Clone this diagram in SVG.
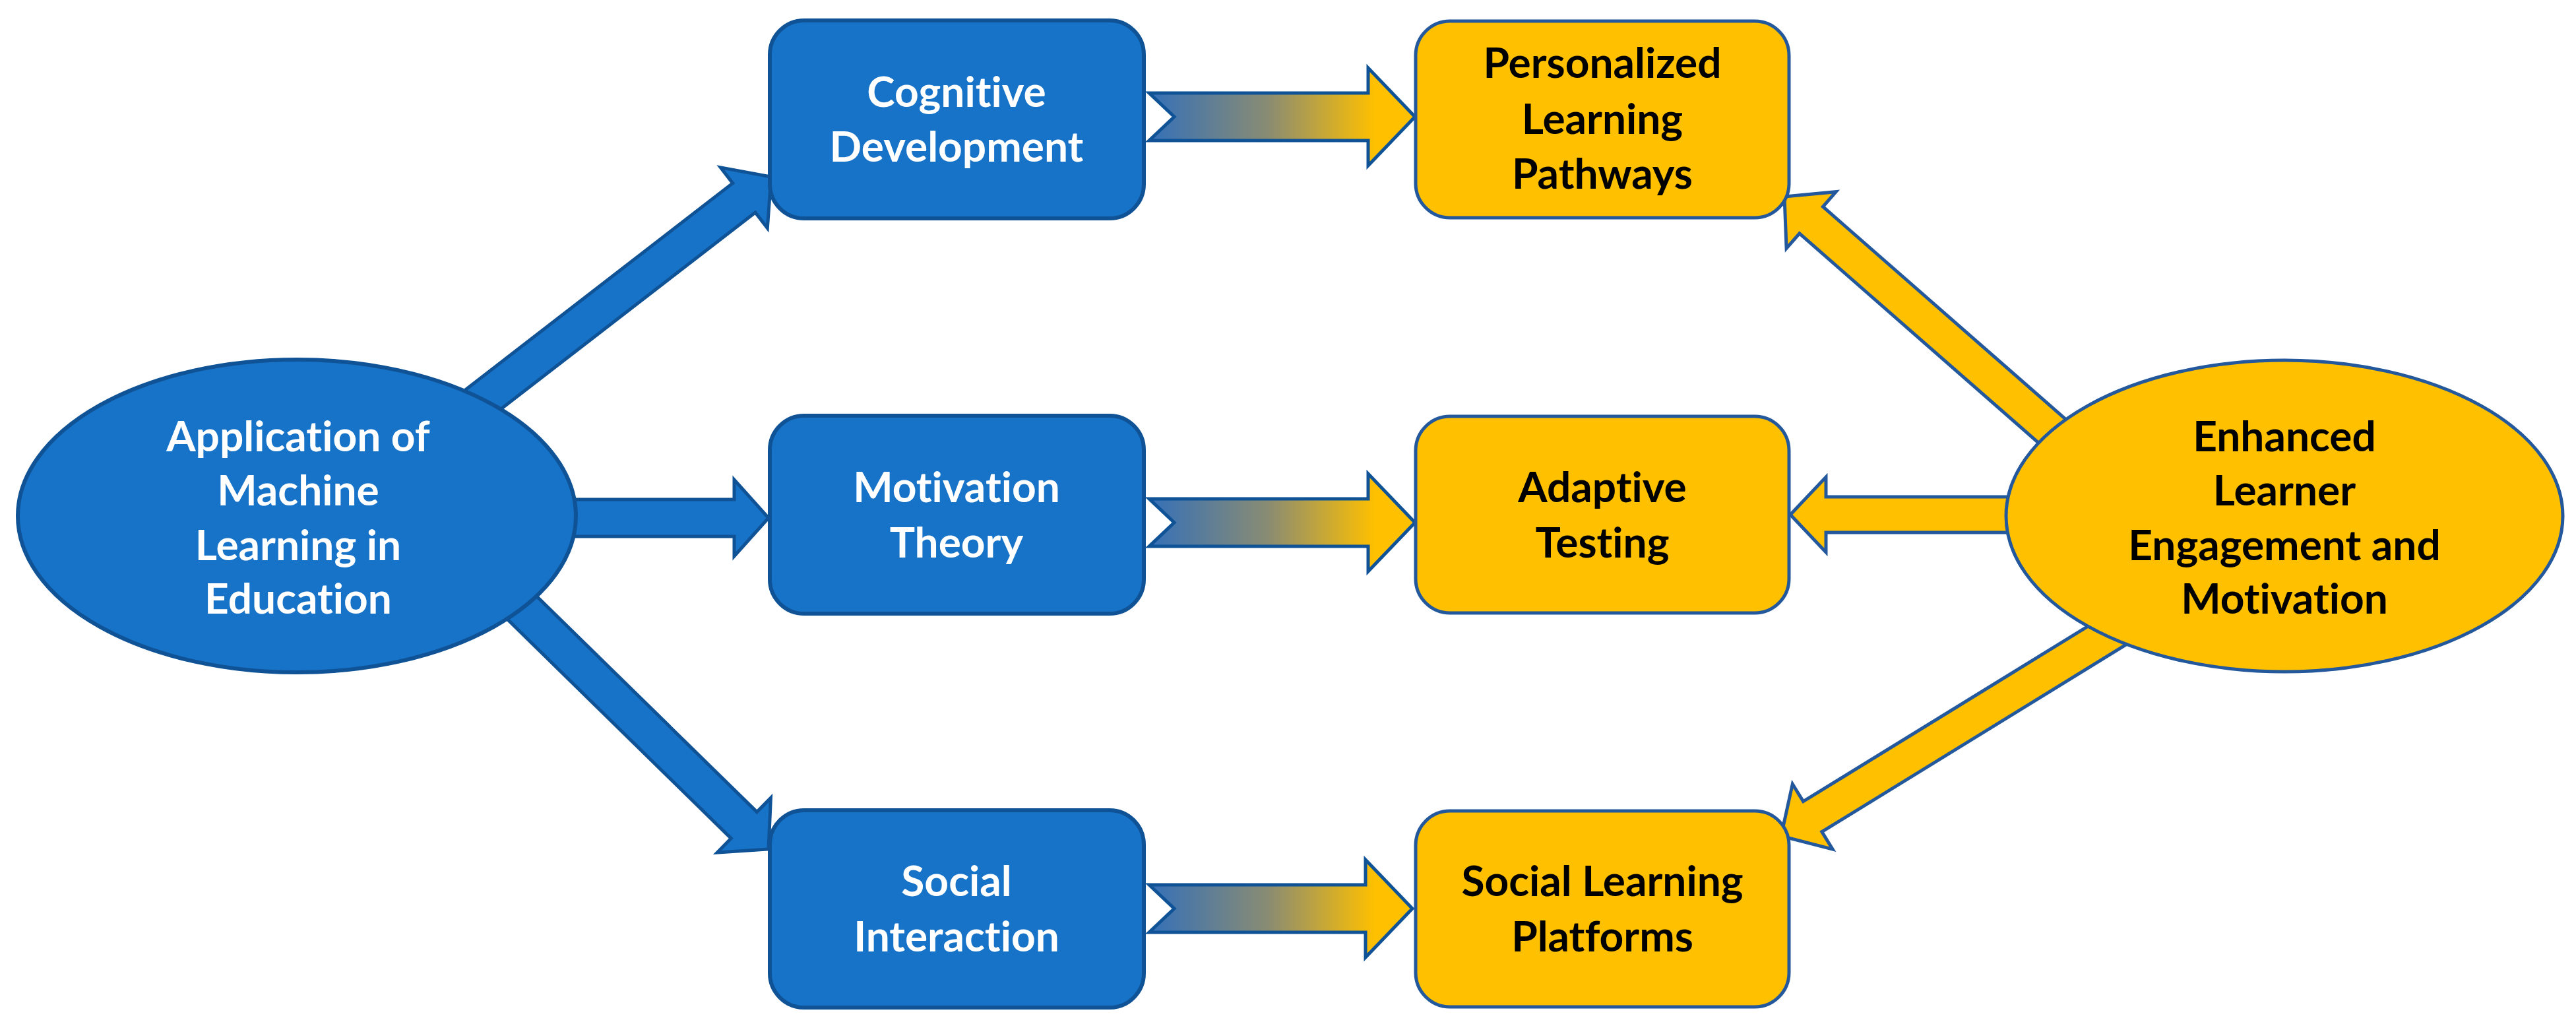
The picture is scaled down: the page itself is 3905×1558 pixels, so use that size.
<svg xmlns="http://www.w3.org/2000/svg" width="3905" height="1558" viewBox="0 0 3905 1558">
<style>
.bbox{fill:#1773c8;stroke:#0f5396;stroke-width:6}
.ybox{fill:#ffc000;stroke:#24589c;stroke-width:5}
.bell{fill:#1773c8;stroke:#0f5396;stroke-width:6}
.yell{fill:#ffc000;stroke:#24589c;stroke-width:5}
.barr{fill:#1773c8;stroke:#0f5396;stroke-width:5;stroke-linejoin:miter}
.yarr{fill:#ffc000;stroke:#24589c;stroke-width:5;stroke-linejoin:miter}
.garr{fill:url(#grad);stroke:#0f5396;stroke-width:5;stroke-linejoin:miter}
text{font-variant-ligatures:none;font-feature-settings:"liga" 0,"clig" 0,"dlig" 0}
.wt{font-family:Lato,"Liberation Sans",sans-serif;font-weight:bold;font-size:64px;fill:#ffffff;text-anchor:middle}
.bt{font-family:Lato,"Liberation Sans",sans-serif;font-weight:bold;font-size:64px;fill:#000000;text-anchor:middle}
</style>
<defs>
<linearGradient id="grad" gradientUnits="userSpaceOnUse" x1="1742" y1="0" x2="2145" y2="0">
<stop offset="0" stop-color="#3470b9"/>
<stop offset="0.45" stop-color="#8a8c72"/>
<stop offset="0.85" stop-color="#ffc000"/>
<stop offset="1" stop-color="#ffc000"/>
</linearGradient>
</defs>
<rect width="3905" height="1558" fill="#ffffff"/>
<g id="connectors">
<path class="barr" transform="translate(1169,268) rotate(-37.7)" d="M-600,-28 H-52 V-58 L0,0 L-52,58 V28 H-600 Z"/>
<path class="barr" transform="translate(1165,785)" d="M-345,-28 H-52 V-58 L0,0 L-52,58 V28 H-345 Z"/>
<path class="barr" transform="translate(1165,1287) rotate(44.4)" d="M-600,-28 H-52 V-58 L0,0 L-52,58 V28 H-600 Z"/>
<path class="garr" d="M1742,141 H2074 V103 L2145,177 L2074,251 V213 H1742 L1780,177 Z"/>
<path class="garr" d="M1742,756 H2074 V718 L2145,792 L2074,866 V828 H1742 L1780,792 Z"/>
<path class="garr" d="M1742,1341 H2070 V1303 L2141,1377 L2070,1451 V1413 H1742 L1780,1377 Z"/>
<path class="yarr" transform="translate(2705,298) rotate(-138.8)" d="M-600,-27 H-54 V-57 L0,0 L-54,57 V27 H-600 Z"/>
<path class="yarr" transform="translate(2714,780) rotate(180)" d="M-380,-27 H-54 V-57 L0,0 L-54,57 V27 H-380 Z"/>
<path class="yarr" transform="translate(2700,1267) rotate(148.4)" d="M-640,-27 H-56 V-58 L0,0 L-56,58 V27 H-640 Z"/>
</g>
<g id="node-ml">
<ellipse class="bell" cx="450" cy="782" rx="423" ry="237"/>
<text class="wt" x="452" y="684">Application of</text>
<text class="wt" x="452" y="766">Machine</text>
<text class="wt" x="452" y="849">Learning in</text>
<text class="wt" x="452" y="930">Education</text>
</g>
<g id="node-cog">
<rect class="bbox" x="1167" y="31" width="567" height="300" rx="52"/>
<text class="wt" x="1450" y="162">Cognitive</text>
<text class="wt" x="1450" y="245">Development</text>
</g>
<g id="node-mot">
<rect class="bbox" x="1167" y="630" width="567" height="300" rx="52"/>
<text class="wt" x="1450" y="761">Motivation</text>
<text class="wt" x="1450" y="845">Theory</text>
</g>
<g id="node-soc">
<rect class="bbox" x="1167" y="1228" width="567" height="299" rx="52"/>
<text class="wt" x="1450" y="1358">Social</text>
<text class="wt" x="1450" y="1442">Interaction</text>
</g>
<g id="node-plp">
<rect class="ybox" x="2146" y="32" width="566" height="298" rx="52"/>
<text class="bt" x="2429" y="118">Personalized</text>
<text class="bt" x="2429" y="203">Learning</text>
<text class="bt" x="2429" y="286">Pathways</text>
</g>
<g id="node-at">
<rect class="ybox" x="2146" y="631" width="566" height="298" rx="52"/>
<text class="bt" x="2429" y="761">Adaptive</text>
<text class="bt" x="2429" y="845">Testing</text>
</g>
<g id="node-slp">
<rect class="ybox" x="2146" y="1229" width="566" height="297" rx="52"/>
<text class="bt" x="2429" y="1358">Social Learning</text>
<text class="bt" x="2429" y="1442">Platforms</text>
</g>
<g id="node-elem">
<ellipse class="yell" cx="3463" cy="782" rx="422" ry="236"/>
<text class="bt" x="3463" y="684">Enhanced</text>
<text class="bt" x="3463" y="766">Learner</text>
<text class="bt" x="3463" y="849">Engagement and</text>
<text class="bt" x="3463" y="930">Motivation</text>
</g>
</svg>
